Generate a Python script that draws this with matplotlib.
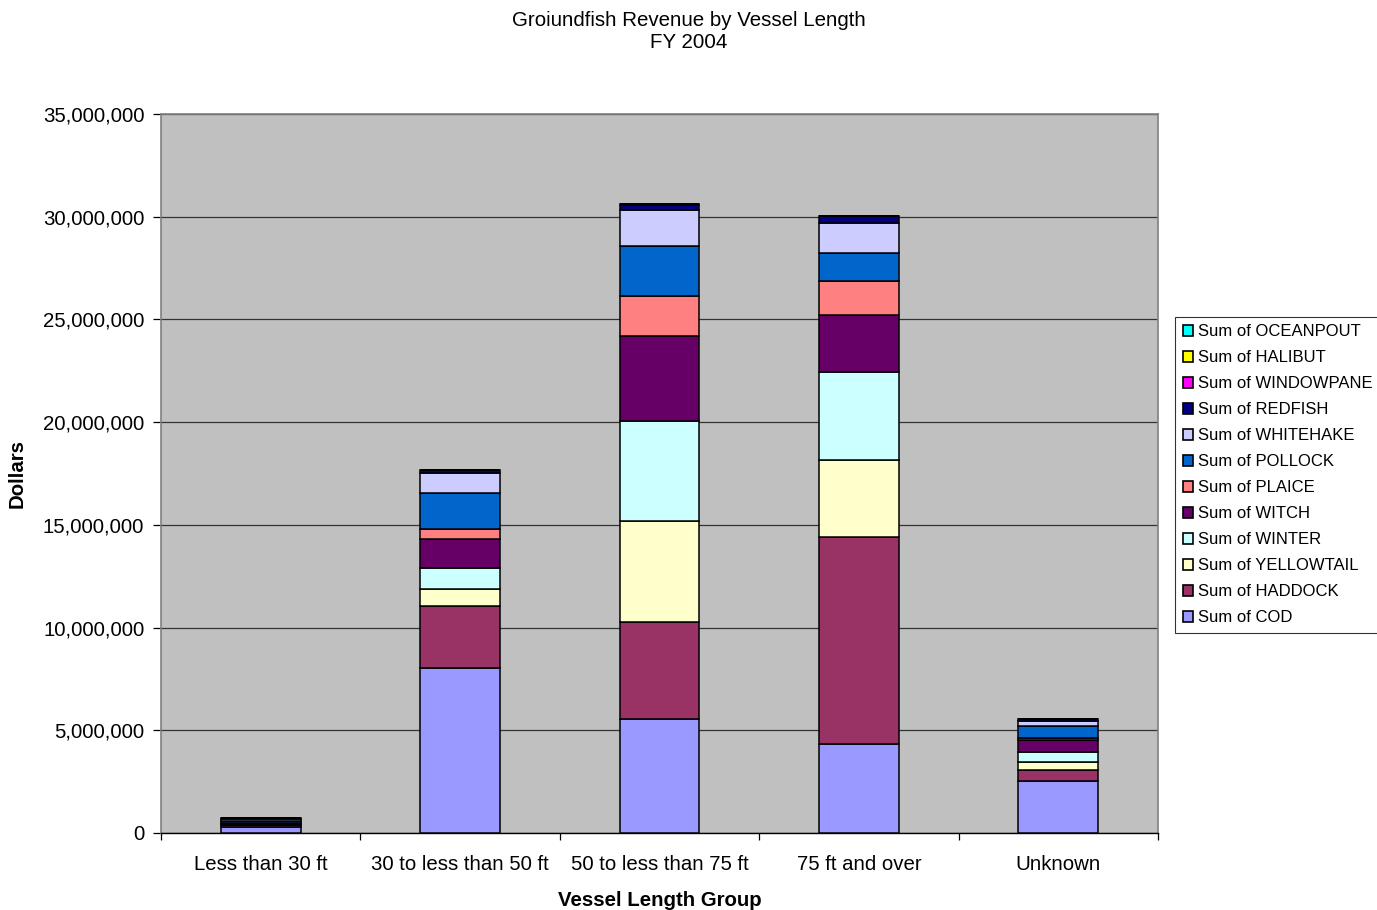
import numpy as np
import matplotlib.pyplot as plt
from matplotlib.patches import Patch
from matplotlib.ticker import FuncFormatter

plt.rcParams['font.family'] = ['Liberation Sans', 'DejaVu Sans']

# categories on the x axis
groups = ['Less than 30 ft', '30 to less than 50 ft', '50 to less than 75 ft',
          '75 ft and over', 'Unknown']

# revenue per species (millions of dollars), stacked bottom -> top
species = ['COD', 'HADDOCK', 'YELLOWTAIL', 'WINTER', 'WITCH', 'PLAICE',
           'POLLOCK', 'WHITEHAKE', 'REDFISH', 'WINDOWPANE', 'HALIBUT', 'OCEANPOUT']
cod        = [0.31, 8.02, 5.55, 4.33, 2.53]
haddock    = [0.06, 3.05, 4.72, 10.08, 0.54]
yellowtail = [0.02, 0.81, 4.92, 3.75, 0.39]
winter     = [0.03, 1.02, 4.85, 4.28, 0.50]
witch      = [0.04, 1.41, 4.16, 2.78, 0.57]
plaice     = [0.01, 0.49, 1.95, 1.67, 0.11]
pollock    = [0.10, 1.77, 2.41, 1.33, 0.58]
whitehake  = [0.10, 0.97, 1.79, 1.49, 0.22]
redfish    = [0.05, 0.11, 0.24, 0.31, 0.10]
windowpane = [0.005, 0.02, 0.02, 0.01, 0.01]
halibut    = [0.002, 0.01, 0.01, 0.01, 0.005]
oceanpout  = [0.001, 0.005, 0.005, 0.005, 0.002]

series = [cod, haddock, yellowtail, winter, witch, plaice, pollock,
          whitehake, redfish, windowpane, halibut, oceanpout]
colors = ['#9999FF', '#993366', '#FFFFCC', '#CCFFFF', '#660066', '#FF8080',
          '#0066CC', '#CCCCFF', '#000080', '#FF00FF', '#FFFF00', '#00FFFF']

fig = plt.figure(figsize=(13.77, 9.10), dpi=100)
ax = fig.add_axes([161/1377, 1 - 833/910, (1158 - 161)/1377, (833 - 114)/910])
ax.set_facecolor('#C0C0C0')

x = np.arange(len(groups))
bottom = np.zeros(len(groups))
for vals, col in zip(series, colors):
    v = np.array(vals) * 1e6
    ax.bar(x, v, bottom=bottom, width=0.40, color=col, edgecolor='black',
           linewidth=1.1, zorder=3)
    bottom += v

ax.set_xlim(-0.5, len(groups) - 0.5)
ax.set_ylim(0, 35e6)
ax.set_yticks(np.arange(0, 35e6 + 1, 5e6))
ax.yaxis.set_major_formatter(FuncFormatter(lambda v, p: f'{int(v):,}'))
ax.grid(axis='y', color='#333333', linewidth=0.9, zorder=1)
ax.set_axisbelow(True)

ax.set_xticks(x)
ax.set_xticklabels(groups)
ax.set_xticks(np.arange(-0.5, len(groups)), minor=True)
ax.tick_params(axis='x', which='major', length=0, pad=16, labelsize=14.7)
ax.tick_params(axis='x', which='minor', length=5, width=0.9, direction='out')
ax.tick_params(axis='y', length=6, width=0.9, pad=6, labelsize=14.7)

for side in ['top', 'right', 'left']:
    ax.spines[side].set_color('#808080')
    ax.spines[side].set_linewidth(1.2)
ax.spines['bottom'].set_color('black')
ax.spines['bottom'].set_linewidth(1.0)

ax.set_xlabel('Vessel Length Group', fontsize=14.7, fontweight='bold', labelpad=12)
ax.set_ylabel('Dollars', fontsize=14.7, fontweight='bold', labelpad=12)

fig.text(0.5, 1 - 31.5/910, 'Groiundfish Revenue by Vessel Length\nFY 2004',
         ha='center', va='center', fontsize=14.8, linespacing=1.22)

handles = [Patch(facecolor=c, edgecolor='black', linewidth=1.2) for c in colors]
labels = ['Sum of ' + s for s in species]
leg = fig.legend(handles[::-1], labels[::-1], loc='upper left',
                 bbox_to_anchor=(1175/1377, 1 - 317/910), bbox_transform=fig.transFigure,
                 fontsize=12, frameon=True, fancybox=False, borderaxespad=0,
                 handlelength=0.65, handleheight=0.65, handletextpad=0.3,
                 labelspacing=0.66, borderpad=0.45)
leg.get_frame().set_edgecolor('black')
leg.get_frame().set_linewidth(0.8)

fig.savefig('out.png', dpi=100, facecolor='white')
